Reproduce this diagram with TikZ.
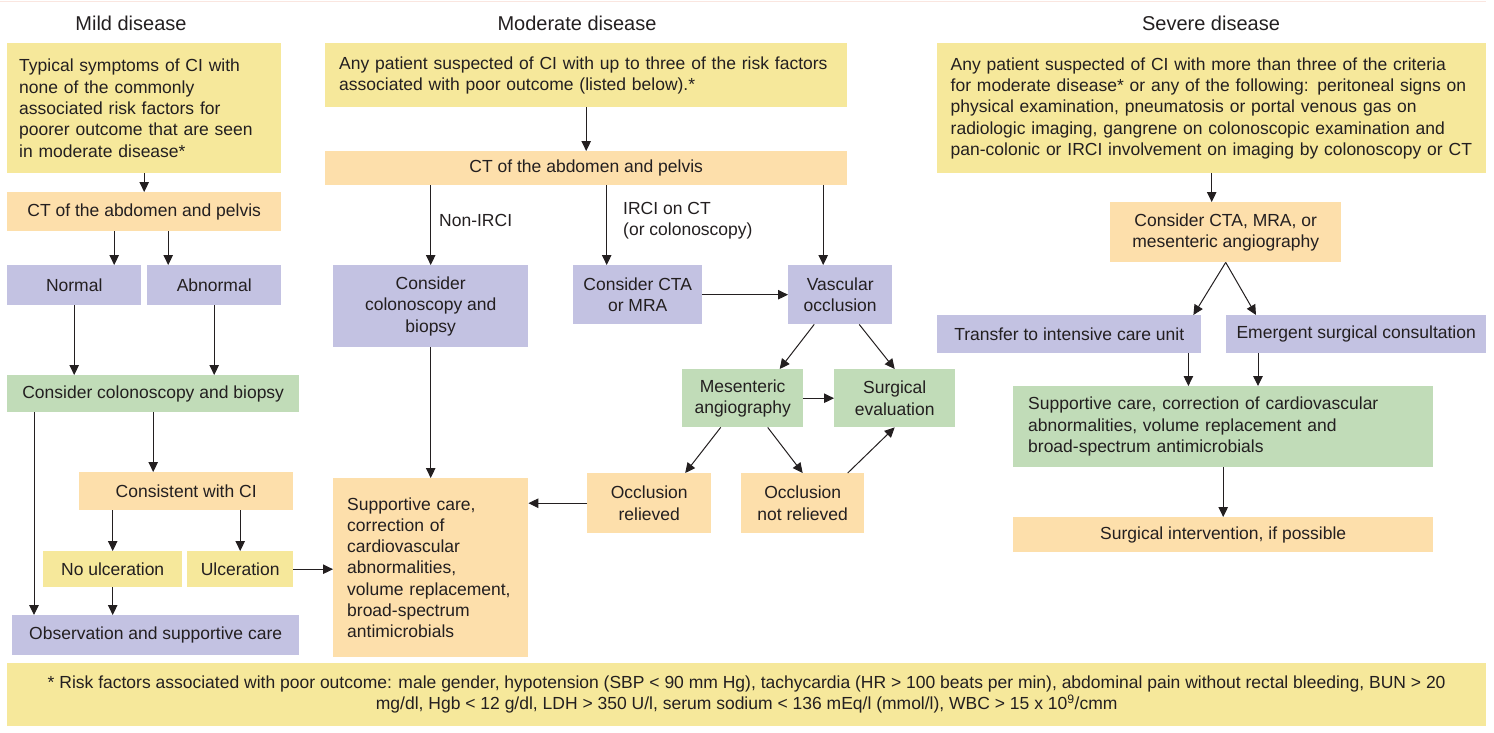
\documentclass[tikz,border=0pt]{standalone}
\usepackage{fontspec}
\setmainfont{Liberation Sans}
\usetikzlibrary{arrows.meta}
\definecolor{ciYellow}{RGB}{246,232,155}
\definecolor{ciOrange}{RGB}{253,223,171}
\definecolor{ciPurple}{RGB}{195,194,226}
\definecolor{ciGreen}{RGB}{193,220,184}
\definecolor{ciInk}{RGB}{35,31,32}
\definecolor{ciRule}{RGB}{250,230,224}

\begin{document}
\begin{tikzpicture}[
    x=1pt, y=-1pt,
    box/.style={rectangle, inner sep=0pt, anchor=north west, align=center, text=ciInk, font=\fontsize{17.5}{21.3}\selectfont},
    presentation/.style={box, fill=ciYellow},
    workup/.style={box, fill=ciOrange},
    decision/.style={box, fill=ciPurple},
    treatment/.style={box, fill=ciGreen},
    wh/.style 2 args={minimum width=#1pt, minimum height=#2pt},
    leftpad/.style={align=left, text width=#1pt},
    heading/.style={font=\fontsize{20}{24}\selectfont, text=ciInk},
    branch note/.style={font=\fontsize{17.5}{21.3}\selectfont, text=ciInk, align=left, inner sep=0pt},
    arr/.style={-{Triangle[length=10pt,width=9.5pt]}, line width=1pt, draw=ciInk}
]
  \useasboundingbox (0,0) rectangle (1494,732);
  \draw[ciRule, line width=1pt] (0,1) -- (1486,1);

  % column headings
  \node[heading] (mildHead) at (131,23) {Mild disease};
  \node[heading] (modHead) at (577,23) {Moderate disease};
  \node[heading] (sevHead) at (1211,23) {Severe disease};

  % mild disease
  \node[presentation, wh={274}{130}, leftpad=250] (mildTop) at (7,43)
    {Typical symptoms of CI with\\ none of the commonly\\ associated risk factors for\\ poorer outcome that are seen\\ in moderate disease*};
  \node[workup, wh={274}{39}] (mildCT) at (7,192) {CT of the abdomen and pelvis};
  \node[decision, wh={134}{40}] (normal) at (7,265) {Normal};
  \node[decision, wh={134}{40}] (abnormal) at (147,265) {Abnormal};
  \node[treatment, wh={292}{37}] (consColon) at (7,375) {Consider colonoscopy and biopsy};
  \node[workup, wh={214}{38}] (consistent) at (79,472) {Consistent with CI};
  \node[presentation, wh={139}{36}] (noUlcer) at (43,551) {No ulceration};
  \node[presentation, wh={106}{36}] (ulcer) at (187,551) {Ulceration};
  \node[decision, wh={287}{40}] (observ) at (12,615) {Observation and supportive care};

  % moderate disease
  \node[presentation, wh={522}{64}, leftpad=494] (modTop) at (325,43)
    {Any patient suspected of CI with up to three of the risk factors\\ associated with poor outcome (listed below).*};
  \node[workup, wh={522}{34}] (modCT) at (325,151) {CT of the abdomen and pelvis};
  \node[decision, wh={195}{82}] (consColonMod) at (333,265) {Consider\\ colonoscopy and\\ biopsy};
  \node[decision, wh={129}{59}] (consCTA) at (573,265) {Consider CTA\\ or MRA};
  \node[decision, wh={104}{59}] (vascular) at (788,265) {Vascular\\ occlusion};
  \node[treatment, wh={121}{58}] (mesenteric) at (682,369) {Mesenteric\\ angiography};
  \node[treatment, wh={121}{58}] (surgical) at (834,369) {Surgical\\ evaluation};
  \node[workup, wh={124}{60}] (relieved) at (587,473) {Occlusion\\ relieved};
  \node[workup, wh={123}{60}] (notRelieved) at (741,473) {Occlusion\\ not relieved};
  \node[workup, wh={195}{179}, leftpad=167] (supportMod) at (333,478)
    {Supportive care,\\ correction of\\ cardiovascular\\ abnormalities,\\ volume replacement,\\ broad-spectrum\\ antimicrobials};

  % severe disease
  \node[presentation, wh={549}{130}, leftpad=522] (sevTop) at (937,43)
    {Any patient suspected of CI with more than three of the criteria\\ for moderate disease* or any of the following: peritoneal signs on\\ physical examination, pneumatosis or portal venous gas on\\ radiologic imaging, gangrene on colonoscopic examination and\\ pan-colonic or IRCI involvement on imaging by colonoscopy or CT};
  \node[workup, wh={231}{60}] (consCTAsev) at (1110,202) {Consider CTA, MRA, or\\ mesenteric angiography};
  \node[decision, wh={264}{38}] (transfer) at (937,315) {Transfer to intensive care unit};
  \node[decision, wh={260}{38}] (emergent) at (1226,315) {Emergent surgical consultation};
  \node[treatment, wh={420}{81}, leftpad=390] (supportSev) at (1013,386)
    {Supportive care, correction of cardiovascular\\ abnormalities, volume replacement and\\ broad-spectrum antimicrobials};
  \node[workup, wh={420}{35}] (surgInt) at (1013,517) {Surgical intervention, if possible};

  % footnote
  \node[presentation, wh={1479}{63}] (riskNote) at (7,663)
    {* Risk factors associated with poor outcome: male gender, hypotension (SBP < 90 mm Hg), tachycardia (HR > 100 beats per min), abdominal pain without rectal bleeding, BUN > 20\\ mg/dl, Hgb < 12 g/dl, LDH > 350 U/l, serum sodium < 136 mEq/l (mmol/l), WBC > 15 x 10\textsuperscript{9}/cmm};

  % mild arrows
  \draw[arr] (mildTop.south) -- (mildCT.north);
  \draw[arr] ([xshift=40pt]mildCT.south -| normal.north) -- ([xshift=40pt]normal.north);
  \draw[arr] ([xshift=-46pt]mildCT.south -| abnormal.north) -- ([xshift=-46pt]abnormal.north);
  \draw[arr] (normal.south) -- (normal.south |- consColon.north);
  \draw[arr] (abnormal.south) -- (abnormal.south |- consColon.north);
  \draw[arr] ([xshift=27pt]consColon.south west) -- ([xshift=27pt]consColon.south west |- observ.north);
  \draw[arr] (consColon.south) -- (consColon.south |- consistent.north);
  \draw[arr] (noUlcer.north |- consistent.south) -- (noUlcer.north);
  \draw[arr] (ulcer.north |- consistent.south) -- (ulcer.north);
  \draw[arr] (noUlcer.south) -- (noUlcer.south |- observ.north);
  \draw[arr] (ulcer.east) -- (ulcer.east -| supportMod.west);

  % moderate arrows
  \draw[arr] (modTop.south) -- (modCT.north);
  \draw[arr] (consColonMod.north |- modCT.south) -- node[branch note, right=8pt, pos=0.44] {Non-IRCI} (consColonMod.north);
  \draw[arr] ([xshift=-31pt]consCTA.north |- modCT.south) -- node[branch note, right=16pt, pos=0.44] {IRCI on CT\\ (or colonoscopy)} ([xshift=-31pt]consCTA.north);
  \draw[arr] ([xshift=-17pt]vascular.north |- modCT.south) -- ([xshift=-17pt]vascular.north);
  \draw[arr] (consCTA.east) -- (consCTA.east -| vascular.west);
  \draw[arr] ([xshift=-26pt]vascular.south) -- ([xshift=37pt]mesenteric.north);
  \draw[arr] ([xshift=19pt]vascular.south) -- (surgical.north);
  \draw[arr] (mesenteric.east) -- (surgical.west);
  \draw[arr] ([xshift=-22pt]mesenteric.south) -- ([xshift=36pt]relieved.north);
  \draw[arr] ([xshift=25pt]mesenteric.south) -- (notRelieved.north);
  \draw[arr] ([xshift=45pt]notRelieved.north) -- (surgical.south);
  \draw[arr] (relieved.west) -- (relieved.west -| supportMod.east);
  \draw[arr] (consColonMod.south) -- (supportMod.north);

  % severe arrows
  \draw[arr] (sevTop.south) -- (sevTop.south |- consCTAsev.north);
  \draw[arr] (consCTAsev.south) -- ([xshift=-8pt]transfer.north east);
  \draw[arr] (consCTAsev.south) -- ([xshift=30pt]emergent.north west);
  \draw[arr] ([xshift=-13pt]transfer.south east) -- ([xshift=-13pt]transfer.south east |- supportSev.north);
  \draw[arr] ([xshift=32pt]emergent.south west) -- ([xshift=32pt]emergent.south west |- supportSev.north);
  \draw[arr] (supportSev.south) -- (surgInt.north);
\end{tikzpicture}
\end{document}
